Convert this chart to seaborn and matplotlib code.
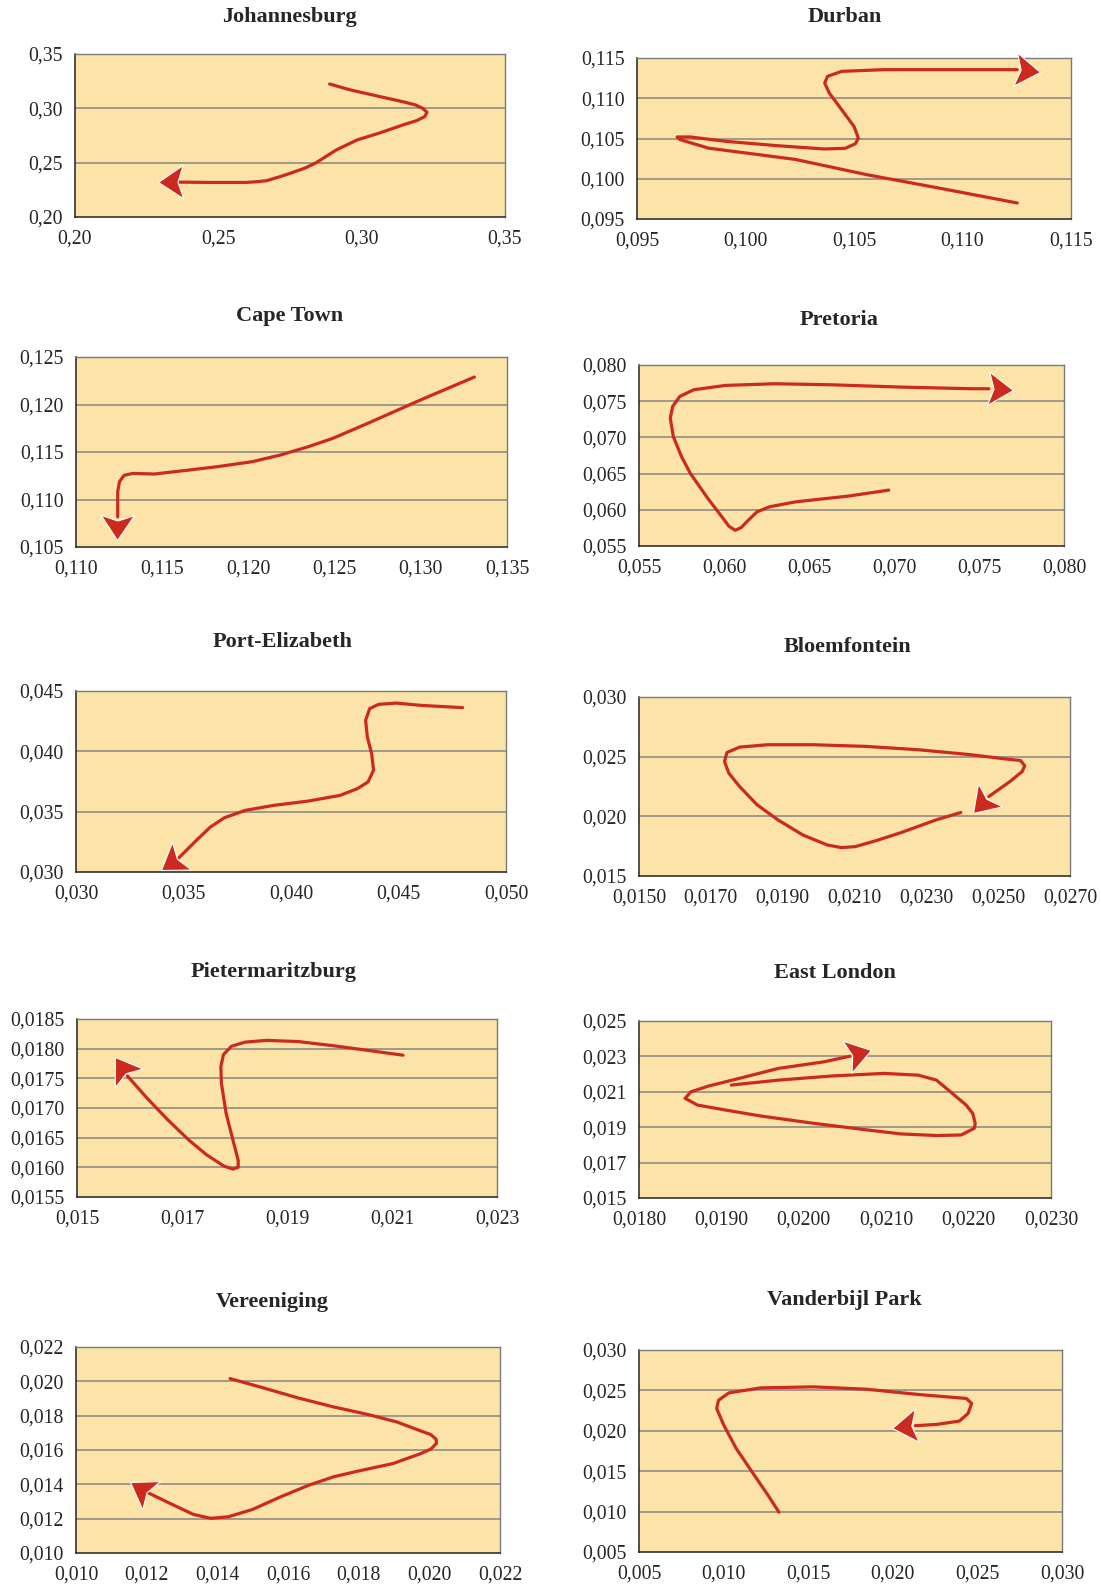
import numpy as np
import matplotlib
matplotlib.use("Agg")
import matplotlib.pyplot as plt
import seaborn as sns
from matplotlib.markers import MarkerStyle
from matplotlib.path import Path
from matplotlib.transforms import Affine2D

# ---- data (last point of each series = arrow tip) ----
jhb_x = [0.2888, 0.296, 0.306, 0.3145, 0.3187, 0.3212, 0.3228, 0.3220, 0.3193, 0.3145, 0.306,
         0.2985, 0.2912, 0.2839, 0.2802, 0.2753, 0.2717, 0.2668, 0.2631, 0.2595, 0.2473,
         0.2363, 0.229]
jhb_y = [0.3224, 0.317, 0.311, 0.306, 0.3032, 0.3001, 0.2964, 0.2924, 0.2888, 0.2848, 0.2771,
         0.271, 0.2618, 0.2496, 0.245, 0.2404, 0.2373, 0.2334, 0.2324, 0.2318, 0.2318,
         0.2321, 0.2318]

dbn_x = [0.11252, 0.1088, 0.1056, 0.1023, 0.0983, 0.09698, 0.09685, 0.09746, 0.09908, 0.1015,
         0.10362, 0.1046, 0.10507, 0.1052, 0.105, 0.10443, 0.10386, 0.10365, 0.10378, 0.10443,
         0.10637, 0.1088, 0.11252, 0.11357]
dbn_y = [0.09699, 0.0989, 0.1005, 0.1024, 0.1038, 0.10486, 0.10519, 0.10519, 0.10465, 0.1041,
         0.1037, 0.10378, 0.10436, 0.10506, 0.1065, 0.10858, 0.11065, 0.11189, 0.11272, 0.11334,
         0.11355, 0.11355, 0.11355, 0.11322]

cpt_x = [0.13311, 0.13, 0.12694, 0.1249, 0.12348, 0.12185, 0.12022, 0.11818, 0.11656, 0.11452,
         0.1133, 0.11279, 0.11252, 0.11242, 0.11242, 0.1124]
cpt_y = [0.12289, 0.12049, 0.11803, 0.11644, 0.11556, 0.11468, 0.11398, 0.11345, 0.1131, 0.11268,
         0.11275, 0.11254, 0.11187, 0.11081, 0.10817, 0.1057]

pta_x = [0.06969, 0.06731, 0.06421, 0.06267, 0.06194, 0.06143, 0.06101, 0.06066, 0.06029, 0.05988,
         0.05905, 0.05802, 0.0575, 0.05702, 0.05684, 0.05698, 0.0574, 0.05822, 0.06008, 0.06298,
         0.06628, 0.07041, 0.07455, 0.07558, 0.07702]
pta_y = [0.06272, 0.06189, 0.0611, 0.06041, 0.05971, 0.05856, 0.05754, 0.05717, 0.05773, 0.05902,
         0.06156, 0.06503, 0.06734, 0.07011, 0.07265, 0.07427, 0.07566, 0.07658, 0.07718, 0.07741,
         0.07727, 0.07695, 0.07672, 0.07672, 0.07649]

pe_x = [0.04798, 0.04603, 0.04489, 0.04407, 0.04366, 0.04347, 0.04355, 0.04375, 0.04384, 0.04358,
        0.04309, 0.04228, 0.04081, 0.03919, 0.03788, 0.03691, 0.03625, 0.0356, 0.03479, 0.03394]
pe_y = [0.04362, 0.04381, 0.044, 0.04389, 0.04354, 0.04257, 0.04119, 0.03981, 0.03843, 0.03746,
        0.03691, 0.03635, 0.03588, 0.03552, 0.03511, 0.0345, 0.03373, 0.03262, 0.03119, 0.03014]

blm_x = [0.02396, 0.02327, 0.0223, 0.02161, 0.02102, 0.02063, 0.02024, 0.01956, 0.01887, 0.01829,
         0.0178, 0.0175, 0.01738, 0.01745, 0.0178, 0.01858, 0.01985, 0.02132, 0.02278, 0.02425,
         0.02523, 0.02562, 0.02574, 0.02567, 0.02533, 0.02474, 0.0243]
blm_y = [0.02032, 0.0197, 0.01864, 0.01797, 0.01746, 0.01738, 0.0176, 0.01844, 0.0197, 0.02096,
         0.0225, 0.02362, 0.0246, 0.02535, 0.0258, 0.026, 0.026, 0.02586, 0.02558, 0.02516,
         0.0248, 0.02468, 0.02424, 0.02376, 0.02292, 0.02166, 0.02026]

pmb_x = [0.02121, 0.02055, 0.01988, 0.01921, 0.01861, 0.0182, 0.01794, 0.01779, 0.01774, 0.01775,
         0.01784, 0.01797, 0.01807, 0.01807, 0.01797, 0.0178, 0.01747, 0.01713, 0.01673, 0.01633,
         0.01596, 0.01572]
pmb_y = [0.01789, 0.01797, 0.01805, 0.01812, 0.01814, 0.01811, 0.01804, 0.0179, 0.0177, 0.01742,
         0.01691, 0.01646, 0.01612, 0.016, 0.01597, 0.01602, 0.01621, 0.01646, 0.0168, 0.01717,
         0.01754, 0.01786]

el_x = [0.01912, 0.01969, 0.02033, 0.02097, 0.02139, 0.02161, 0.02178, 0.02197, 0.02205, 0.02208,
        0.02207, 0.02191, 0.02161, 0.02118, 0.02076, 0.02012, 0.01948, 0.01905, 0.01871, 0.01856,
        0.01863, 0.01884, 0.01926, 0.01969, 0.02024, 0.02056, 0.02082]
el_y = [0.02138, 0.02166, 0.02189, 0.02204, 0.02194, 0.02166, 0.021, 0.02025, 0.01978, 0.01922,
        0.01894, 0.01856, 0.01853, 0.01862, 0.01885, 0.01922, 0.01963, 0.01997, 0.02025, 0.02063,
        0.021, 0.02132, 0.02181, 0.02232, 0.02269, 0.02301, 0.02335]

ver_x = [0.01436, 0.0153, 0.01629, 0.01729, 0.01828, 0.01907, 0.01977, 0.02004, 0.02019, 0.0202,
         0.02004, 0.01977, 0.01897, 0.01798, 0.01729, 0.01659, 0.0158, 0.015, 0.01431, 0.01381,
         0.01332, 0.01272, 0.01198, 0.01153]
ver_y = [0.02016, 0.01962, 0.01903, 0.01851, 0.01806, 0.01764, 0.0171, 0.0169, 0.01663, 0.01638,
         0.01605, 0.0158, 0.01521, 0.01477, 0.01444, 0.01395, 0.01328, 0.01254, 0.01211, 0.01202,
         0.01225, 0.01283, 0.01357, 0.01415]

vdb_x = [0.01327, 0.01261, 0.01167, 0.01074, 0.01001, 0.00959, 0.0097, 0.01032, 0.01219, 0.01531,
         0.01842, 0.02154, 0.02435, 0.02466, 0.02445, 0.02393, 0.02258, 0.02133, 0.01998]
vdb_y = [0.00993, 0.01207, 0.01495, 0.01783, 0.02071, 0.02276, 0.02379, 0.0247, 0.02531, 0.02544,
         0.02515, 0.02449, 0.024, 0.02338, 0.02215, 0.0212, 0.02079, 0.02063, 0.0203]

cities = ["Johannesburg", "Durban", "Cape Town", "Pretoria", "Port-Elizabeth",
          "Bloemfontein", "Pietermaritzburg", "East London", "Vereeniging", "Vanderbijl Park"]
series = [(jhb_x, jhb_y), (dbn_x, dbn_y), (cpt_x, cpt_y), (pta_x, pta_y), (pe_x, pe_y),
          (blm_x, blm_y), (pmb_x, pmb_y), (el_x, el_y), (ver_x, ver_y), (vdb_x, vdb_y)]

x_ticks = [
    ["0,20", "0,25", "0,30", "0,35"],
    ["0,095", "0,100", "0,105", "0,110", "0,115"],
    ["0,110", "0,115", "0,120", "0,125", "0,130", "0,135"],
    ["0,055", "0,060", "0,065", "0,070", "0,075", "0,080"],
    ["0,030", "0,035", "0,040", "0,045", "0,050"],
    ["0,0150", "0,0170", "0,0190", "0,0210", "0,0230", "0,0250", "0,0270"],
    ["0,015", "0,017", "0,019", "0,021", "0,023"],
    ["0,0180", "0,0190", "0,0200", "0,0210", "0,0220", "0,0230"],
    ["0,010", "0,012", "0,014", "0,016", "0,018", "0,020", "0,022"],
    ["0,005", "0,010", "0,015", "0,020", "0,025", "0,030"],
]
y_ticks = [
    ["0,20", "0,25", "0,30", "0,35"],
    ["0,095", "0,100", "0,105", "0,110", "0,115"],
    ["0,105", "0,110", "0,115", "0,120", "0,125"],
    ["0,055", "0,060", "0,065", "0,070", "0,075", "0,080"],
    ["0,030", "0,035", "0,040", "0,045"],
    ["0,015", "0,020", "0,025", "0,030"],
    ["0,0155", "0,0160", "0,0165", "0,0170", "0,0175", "0,0180", "0,0185"],
    ["0,015", "0,017", "0,019", "0,021", "0,023", "0,025"],
    ["0,010", "0,012", "0,014", "0,016", "0,018", "0,020", "0,022"],
    ["0,005", "0,010", "0,015", "0,020", "0,025", "0,030"],
]

# ---- layout (pixel boxes: left, top, right, bottom) and title centres ----
W, H = 1101, 1592
boxes = [(75, 54, 505, 217), (637, 58, 1071, 219),
         (76, 357, 507, 547), (639, 365, 1064, 546),
         (76, 691, 506, 872), (639, 697, 1070, 876),
         (77, 1019, 497, 1197), (639, 1021, 1051, 1198),
         (76, 1347, 500, 1553), (639, 1350, 1062, 1552)]
titles_at = [(289, 17), (845, 17), (290, 316), (839, 320), (283, 642),
             (847, 647), (274, 972), (835, 973), (272, 1302), (844, 1300)]

RED = "#CC2A1E"
BG = "#FCE4A8"
GRID = "#858585"

sns.set_style("white")
plt.rcParams["font.family"] = ["Liberation Serif", "DejaVu Serif"]

# concave arrow head, tip at origin pointing along +x
HEAD = Path([(0, 0), (-1, 0.67), (-0.78, 0), (-1, -0.67), (0, 0)],
            [Path.MOVETO, Path.LINETO, Path.LINETO, Path.LINETO, Path.CLOSEPOLY])


def to_num(labels):
    return [float(s.replace(",", ".")) for s in labels]


fig = plt.figure(figsize=(W / 100, H / 100), dpi=100)

for i, (name, (xs, ys)) in enumerate(zip(cities, series)):
    l, t, r, b = boxes[i]
    ax = fig.add_axes([l / W, 1 - b / H, (r - l) / W, (b - t) / H])
    ax.set_facecolor(BG)

    xt, yt = to_num(x_ticks[i]), to_num(y_ticks[i])
    ax.set_xlim(xt[0], xt[-1])
    ax.set_ylim(yt[0], yt[-1])
    ax.set_xticks(xt)
    ax.set_xticklabels(x_ticks[i])
    ax.set_yticks(yt)
    ax.set_yticklabels(y_ticks[i])
    ax.tick_params(direction="out", length=5, width=1, color="#222222",
                   labelsize=14.2, pad=4)
    for yv in yt[1:-1]:
        ax.axhline(yv, color=GRID, lw=1.1, zorder=1)
    for s in ["left", "bottom"]:
        ax.spines[s].set_color("#222222")
        ax.spines[s].set_linewidth(1.1)
    for s in ["top", "right"]:
        ax.spines[s].set_color("#7A7A7A")
        ax.spines[s].set_linewidth(1)

    sns.lineplot(x=xs[:-1], y=ys[:-1], sort=False, estimator=None, color=RED,
                 lw=2.3, ax=ax, zorder=3, solid_joinstyle="round",
                 solid_capstyle="round")

    # arrow head at the last point, oriented along the final segment
    p0 = ax.transData.transform((xs[-2], ys[-2]))
    p1 = ax.transData.transform((xs[-1], ys[-1]))
    ang = np.degrees(np.arctan2(p1[1] - p0[1], p1[0] - p0[0]))
    m = MarkerStyle(HEAD, transform=Affine2D().rotate_deg(ang))
    ax.plot([xs[-1]], [ys[-1]], marker=m, ms=36, color=RED, mec="white",
            mew=0.8, zorder=5, clip_on=False)

    tx, ty = titles_at[i]
    fig.text(tx / W, 1 - ty / H, name, ha="center", va="center",
             fontsize=16, fontweight="bold")

fig.savefig("out.png", dpi=100)
